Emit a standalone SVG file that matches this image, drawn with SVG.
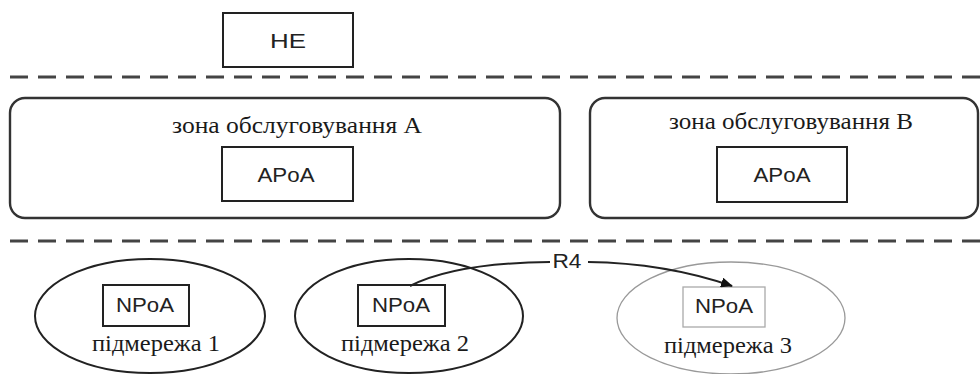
<svg xmlns="http://www.w3.org/2000/svg" width="980" height="374" viewBox="0 0 980 374">
  <defs>
    <style>
      .box { fill: #fff; stroke: #222; stroke-width: 2; }
      .zone { fill: #fff; stroke: #333; stroke-width: 2.4; }
      .net { fill: none; stroke: #222; stroke-width: 2; }
      .net-dim { fill: none; stroke: #999; stroke-width: 1.3; }
      .box-dim { fill: #fff; stroke: #aaa; stroke-width: 1.3; }
      .sep { stroke: #444; stroke-width: 3; stroke-dasharray: 18 10; }
      .sans { font-family: "Liberation Sans", Arial, sans-serif; font-size: 21px; fill: #222; text-anchor: middle; }
      .serif { font-family: "Liberation Serif", "Times New Roman", serif; font-size: 24px; fill: #1a1a1a; text-anchor: middle; }
      .link { fill: none; stroke: #222; stroke-width: 2; }
    </style>
    <marker id="arrow" viewBox="0 0 12 10" refX="11" refY="5" markerWidth="12" markerHeight="10" markerUnits="userSpaceOnUse" orient="auto">
      <path d="M0,0 L12,5 L0,10 Z" fill="#111"/>
    </marker>
  </defs>

  <!-- layer separators -->
  <line class="sep" x1="10" y1="77" x2="980" y2="77"/>
  <line class="sep" x1="10" y1="241" x2="980" y2="241"/>

  <g id="he">
    <rect class="box" x="223" y="13" width="130" height="54"/>
    <text class="sans" x="288" y="48" textLength="36" lengthAdjust="spacingAndGlyphs">HE</text>
  </g>

  <g id="zone-a">
    <rect class="zone" x="10" y="98" width="550" height="120" rx="15"/>
    <text class="serif" x="297" y="133" textLength="250" lengthAdjust="spacingAndGlyphs">зона обслуговування А</text>
    <g id="apoa-a">
      <rect class="box" x="222" y="147" width="131" height="54"/>
      <text class="sans" x="286" y="182" textLength="57" lengthAdjust="spacingAndGlyphs">APoA</text>
    </g>
  </g>

  <g id="zone-b">
    <rect class="zone" x="590" y="98" width="388" height="120" rx="15"/>
    <text class="serif" x="791" y="129" textLength="244" lengthAdjust="spacingAndGlyphs">зона обслуговування В</text>
    <g id="apoa-b">
      <rect class="box" x="717" y="147" width="130" height="55"/>
      <text class="sans" x="782" y="182" textLength="57" lengthAdjust="spacingAndGlyphs">APoA</text>
    </g>
  </g>

  <g id="subnet-1">
    <ellipse class="net" cx="150" cy="316" rx="115" ry="57"/>
    <rect class="box" x="103" y="285" width="86" height="41"/>
    <text class="sans" x="145" y="312" textLength="58" lengthAdjust="spacingAndGlyphs">NPoA</text>
    <text class="serif" x="156" y="351" textLength="128" lengthAdjust="spacingAndGlyphs">підмережа 1</text>
  </g>

  <g id="subnet-2">
    <ellipse class="net" cx="409" cy="316" rx="114" ry="57"/>
    <rect class="box" x="358" y="285" width="87" height="41"/>
    <text class="sans" x="401" y="312" textLength="58" lengthAdjust="spacingAndGlyphs">NPoA</text>
    <text class="serif" x="405" y="351" textLength="128" lengthAdjust="spacingAndGlyphs">підмережа 2</text>
  </g>

  <g id="subnet-3">
    <ellipse class="net-dim" cx="731" cy="318" rx="114" ry="56"/>
    <rect class="box-dim" x="683" y="287" width="82" height="40"/>
    <text class="sans" x="724" y="313" textLength="58" lengthAdjust="spacingAndGlyphs" fill="#333">NPoA</text>
    <text class="serif" x="728" y="353" textLength="128" lengthAdjust="spacingAndGlyphs">підмережа 3</text>
  </g>

  <g id="connectors">
    <path class="link" d="M410,286 Q455,263 550,262"/>
    <text class="sans" x="567" y="268" font-size="18" textLength="29" lengthAdjust="spacingAndGlyphs">R4</text>
    <path class="link" d="M588,262 Q665,263 732,286" marker-end="url(#arrow)"/>
  </g>
</svg>
